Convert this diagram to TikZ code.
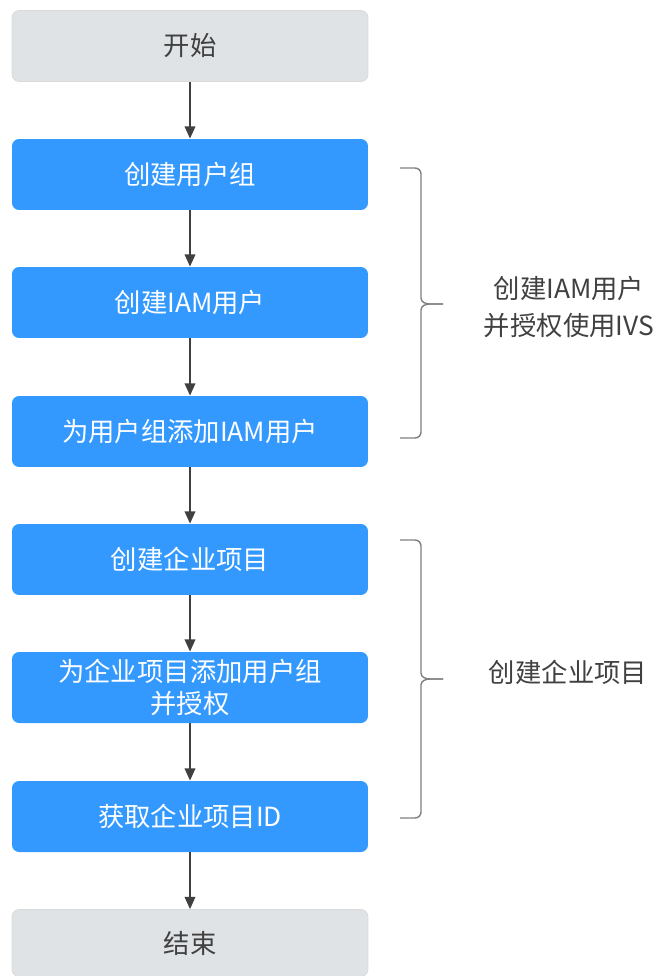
\documentclass[tikz,border=0pt]{standalone}
\usepackage{fontspec}
\setmainfont{Noto Sans CJK SC}
\usetikzlibrary{arrows.meta,positioning}
\definecolor{stepblue}{HTML}{3399FF}
\definecolor{endgray}{HTML}{E0E3E6}
\definecolor{linegray}{HTML}{404040}
\definecolor{bracegray}{HTML}{7F7F7F}

\begin{document}
\begin{tikzpicture}[x=0.02cm,y=-0.02cm,
    box/.style={rectangle, rounded corners=4pt, minimum width=7.12cm, minimum height=1.42cm, align=center, font=\fontsize{15}{18}\selectfont},
    stepbox/.style={box, fill=stepblue, text=white},
    endbox/.style={box, fill=endgray, draw=black!15, text=linegray},
    flow/.style={-{Triangle[length=7pt,width=6pt]}, draw=linegray, line width=1.1pt},
    bracket/.style={draw=bracegray, line width=0.8pt},
    note/.style={align=center, text=linegray, font=\fontsize{15}{21}\selectfont}]
    \useasboundingbox (0,0) rectangle (661,976);
    \node[endbox] (start) at (190,46) {开始};
    \node[stepbox] (a) at (190,174.5) {创建用户组};
    \node[stepbox] (b) at (190,302.5) {创建IAM用户};
    \node[stepbox] (c) at (190,431.5) {为用户组添加IAM用户};
    \node[stepbox] (d) at (190,559.5) {创建企业项目};
    \node[stepbox] (e) at (190,687.5) {为企业项目添加用户组\\并授权};
    \node[stepbox] (f) at (190,816.5) {获取企业项目ID};
    \node[endbox, minimum height=1.34cm] (stop) at (190,943) {结束};
    \draw[flow] (start) -- (a);
    \draw[flow] (a) -- (b);
    \draw[flow] (b) -- (c);
    \draw[flow] (c) -- (d);
    \draw[flow] (d) -- (e);
    \draw[flow] (e) -- (f);
    \draw[flow] (f) -- (stop);

    % braces on the right
    \draw[bracket] (400,168) -- (415,168) to[out=0,in=90] (421,174) -- (421,298)
      to[out=-90,in=180] (430,304) -- (443,304);
    \draw[bracket] (443,304) -- (430,304) to[out=180,in=90] (421,310) -- (421,432)
      to[out=-90,in=0] (415,438) -- (400,438);
    \node[note] (n1) at (569,307) {创建IAM用户\\并授权使用IVS};

    \draw[bracket] (400,540) -- (415,540) to[out=0,in=90] (421,546) -- (421,673)
      to[out=-90,in=180] (430,679) -- (443,679);
    \draw[bracket] (443,679) -- (430,679) to[out=180,in=90] (421,685) -- (421,812)
      to[out=-90,in=0] (415,818) -- (400,818);
    \node[note] (n2) at (568,672) {创建企业项目};
  \end{tikzpicture}
\end{document}
